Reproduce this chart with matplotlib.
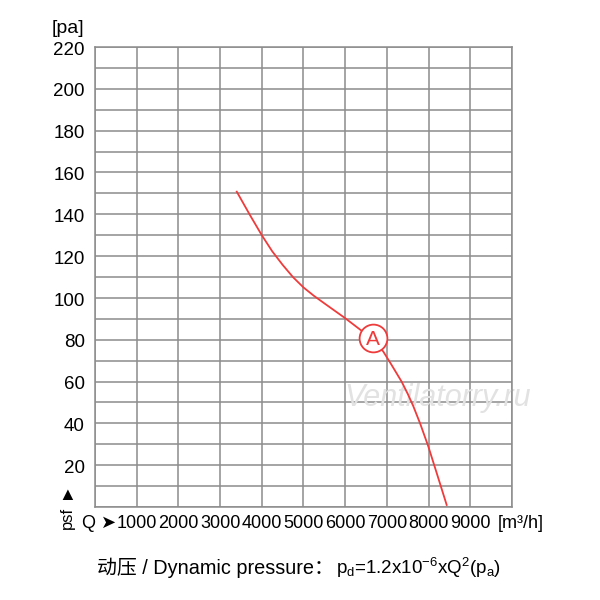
import matplotlib
matplotlib.use("Agg")
import matplotlib.pyplot as plt
import numpy as np

plt.rcParams['font.family'] = ['Liberation Sans', 'Noto Sans CJK SC', 'DejaVu Sans']
plt.rcParams['mathtext.fontset'] = 'custom'
plt.rcParams['mathtext.rm'] = 'Liberation Sans'
plt.rcParams['mathtext.default'] = 'regular'

# fan curve A
flow = [3400, 3717, 4000, 4250, 4500, 4750, 5000, 5250, 5500, 6000, 6400, 6675,
        6915, 7114, 7355, 7500, 7634, 7800, 7993, 8194, 8434]
pressure = [150.8, 139.6, 130, 122.3, 115.8, 109.9, 105.0, 101.0, 97.4, 90.3, 84.2, 80.2,
            74.3, 67.9, 59.9, 54.1, 48.2, 39.8, 29.0, 16.3, 1]
point_a = (6660, 80.6)

x_ticks = [1000, 2000, 3000, 4000, 5000, 6000, 7000, 8000, 9000]
y_ticks = [20, 40, 60, 80, 100, 120, 140, 160, 180, 200, 220]

red = '#ee3b3b'
grid_col = '#8c8c8c'

fig = plt.figure(figsize=(6, 6), dpi=100)
ax = fig.add_axes([0.1583, 0.155, 0.695, 0.7667])
ax.set_xlim(0, 10000)
ax.set_ylim(0, 220)
ax.set_xticks(np.arange(0, 10001, 1000))
ax.set_yticks(np.arange(0, 221, 10))
ax.grid(True, color=grid_col, linewidth=1.1)
ax.tick_params(length=0, labelbottom=False, labelleft=False)
for s in ax.spines.values():
    s.set_color(grid_col)
    s.set_linewidth(1.1)

ax.plot(flow, pressure, color=red, linewidth=1.3, zorder=3)
ax.plot(*point_a, marker='o', markersize=20, markerfacecolor='white',
        markeredgecolor=red, markeredgewidth=1.3, zorder=4)
ax.text(point_a[0], point_a[1] - 0.5, 'A', color=red, fontsize=15, ha='center', va='center',
        zorder=5)

# watermark
ax.text(8230, 52, 'Ventilatorry.ru', fontsize=22, style='italic', color='#e2e2e2',
        ha='center', va='center', zorder=2)

# tick labels
for v in x_ticks:
    ax.text(v, -8, str(v), fontsize=13, ha='center', va='center', clip_on=False)
for v in y_ticks:
    ax.text(-240, v - 1.5, str(v), fontsize=13.5, ha='right', va='center', clip_on=False)

ax.text(100, -8, 'Q \u27a4', fontsize=13, ha='center', va='center', clip_on=False)
ax.text(10200, -8, '[m\u00b3/h]', fontsize=13, ha='center', va='center', clip_on=False)
ax.text(-670, -5, 'psf', fontsize=12, rotation=90, ha='center', va='center', clip_on=False)
ax.text(-670, 5.5, '\u25b2', fontsize=13, ha='center', va='center', clip_on=False)
ax.text(-640, 229, '[pa]', fontsize=14, ha='center', va='center', clip_on=False)

# caption: plain part and formula part side by side
t1 = fig.text(0.162, 0.053, '动压 / Dynamic pressure：', fontsize=14.3, ha='left', va='center')
fig.canvas.draw()
bb = t1.get_window_extent()
fig.text(bb.x1 / fig.bbox.width + 0.003, 0.053, '$p_d$=1.2x10$^{-6}$xQ$^2$($p_a$)',
         fontsize=13.5, ha='left', va='center')

fig.savefig('out.png', dpi=100, facecolor='white')
